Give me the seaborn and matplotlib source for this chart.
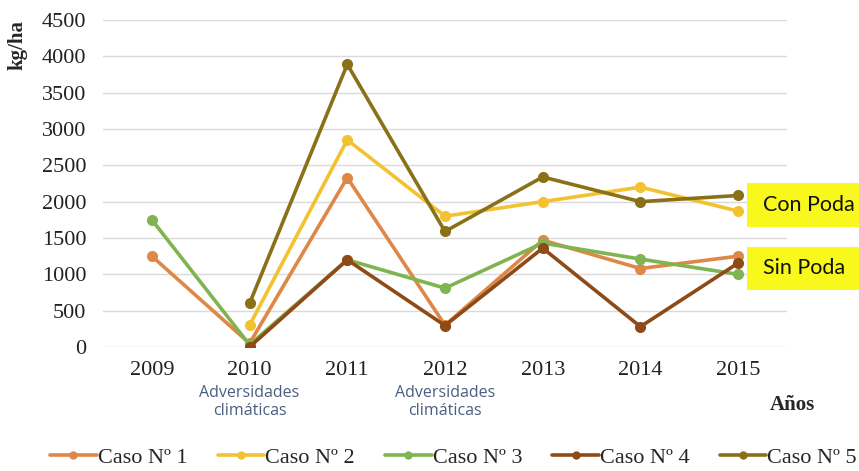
import numpy as np
import pandas as pd
import seaborn as sns
import matplotlib.pyplot as plt
from matplotlib.patches import Rectangle

years = [2009, 2010, 2011, 2012, 2013, 2014, 2015]
caso_1 = [1250, 50, 2330, 300, 1470, 1080, 1250]
caso_2 = [np.nan, 300, 2850, 1800, 2000, 2200, 1870]
caso_3 = [1750, 30, 1200, 810, 1430, 1210, 1000]
caso_4 = [np.nan, 0, 1200, 295, 1360, 280, 1155]
caso_5 = [np.nan, 600, 3890, 1590, 2340, 2000, 2085]
labels = ["Caso Nº 1", "Caso Nº 2", "Caso Nº 3", "Caso Nº 4", "Caso Nº 5"]
colors = ["#DF8747", "#F2C230", "#7FB450", "#8E4A17", "#8A7118"]

rows = []
for name, vals in zip(labels, [caso_1, caso_2, caso_3, caso_4, caso_5]):
    for y, v in zip(years, vals):
        rows.append({"Año": y, "kg/ha": v, "Caso": name})
df = pd.DataFrame(rows).dropna()

sns.set_style("white")
plt.rcParams["font.family"] = ["Liberation Serif", "DejaVu Serif"]

W, H = 859, 471
fig = plt.figure(figsize=(W / 100, H / 100), dpi=100)
ax = fig.add_axes([103 / W, 1 - 347 / H, 684 / W, 327 / H])

sns.lineplot(data=df, x="Año", y="kg/ha", hue="Caso", palette=colors,
             marker="o", markersize=8, markeredgewidth=0, linewidth=2.6,
             ax=ax, legend=False)

ax.set_xlim(2008.5, 2015.5)
ax.set_ylim(0, 4500)
ax.set_yticks(range(0, 4501, 500))
ax.set_xticks(years)
ax.grid(axis="y", color="#DADADA", linewidth=1)
ax.set_axisbelow(True)
sns.despine(ax=ax, left=True, bottom=True)
ax.tick_params(axis="both", length=0, labelsize=16, colors="#222222")
ax.tick_params(axis="x", pad=10)
ax.tick_params(axis="y", pad=12)
ax.set_xlabel("")
ax.set_ylabel("")

fig.text(17 / W, 1 - 45 / H, "kg/ha", rotation=90, ha="center", va="center",
         fontsize=15, fontweight="bold")
fig.text(792 / W, 1 - 405 / H, "Años", ha="center", va="center",
         fontsize=15, fontweight="bold")

# notas bajo los años con problemas climáticos
for yr in [2010, 2012]:
    ax.text(yr, -520, "Adversidades\nclimáticas", ha="center", va="top",
            fontsize=11.5, color="#4A5F80", family=["Open Sans", "DejaVu Sans"],
            linespacing=1.2, clip_on=False)

for txt, top, bot in [("Con Poda", 183, 227), ("Sin Poda", 247, 290)]:
    fig.patches.append(Rectangle((747 / W, 1 - bot / H), 112 / W, (bot - top) / H,
                                 transform=fig.transFigure, facecolor="#F9F81C",
                                 edgecolor="none", zorder=0))
    fig.text(763 / W, 1 - (top + bot) / 2 / H, txt, ha="left", va="center",
             fontsize=15.5, family=["Lato", "DejaVu Sans"], color="#111111")

handles = [plt.Line2D([], [], color=c, marker="o", markersize=6, linewidth=2.6,
                      markeredgewidth=0) for c in colors]
fig.legend(handles, labels, loc="center", bbox_to_anchor=(0.528, 0.028),
           ncol=5, frameon=False, fontsize=16, handlelength=2.1,
           handletextpad=0.05, columnspacing=1.35, borderpad=0)

plt.savefig("out.png", dpi=100)
